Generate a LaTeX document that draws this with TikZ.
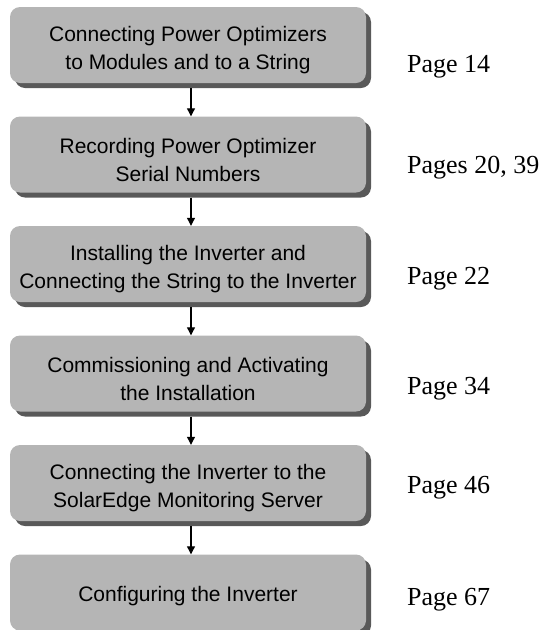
\documentclass[tikz,border=0pt]{standalone}
\usepackage{fontspec}
\setmainfont{Liberation Serif}
\newfontfamily\boxfont{Liberation Sans}
\usetikzlibrary{arrows.meta,shadows}
\definecolor{boxgray}{RGB}{181,181,181}
\definecolor{shadowgray}{RGB}{80,80,80}
\tikzset{
  stepbox/.style={rounded corners=10pt, fill=boxgray, draw=none,
    minimum width=356pt, minimum height=76pt, inner sep=0pt,
    drop shadow={shadow xshift=5pt, shadow yshift=-5pt, fill=shadowgray, opacity=0.95}},
  boxtxt/.style={inner sep=0pt, align=center, font=\boxfont\fontsize{21}{28}\selectfont},
  pagelbl/.style={anchor=base west, inner sep=0pt, font=\fontsize{26}{30}\selectfont},
  arr/.style={draw=black, line width=1.1pt, -{Triangle[length=8pt,width=8pt]}}
}
\begin{document}
\begin{tikzpicture}[x=1pt,y=-1pt]
\useasboundingbox (0,0) rectangle (545,630);
\node[stepbox] (b1) at (188,45) {};
\node[stepbox] (b2) at (188,154.5) {};
\node[stepbox] (b3) at (188,264) {};
\node[stepbox] (b4) at (188,373.5) {};
\node[stepbox] (b5) at (188,483) {};
\node[stepbox] (b6) at (188,592.5) {};
\node[boxtxt] (t1) at ([yshift=-5pt]b1.center) {Connecting Power Optimizers\\to Modules and to a String};
\node[boxtxt] (t2) at ([yshift=-5pt]b2.center) {Recording Power Optimizer\\Serial Numbers};
\node[boxtxt] (t3) at ([yshift=-5pt]b3.center) {Installing the Inverter and\\Connecting the String to the Inverter};
\node[boxtxt] (t4) at ([yshift=-5pt]b4.center) {Commissioning and Activating\\the Installation};
\node[boxtxt] (t5) at ([yshift=-5pt]b5.center) {Connecting the Inverter to the\\SolarEdge Monitoring Server};
\node[boxtxt] (t6) at ([yshift=-4pt]b6.center) {Configuring the Inverter};
\foreach \a/\b in {b1/b2,b2/b3,b3/b4,b4/b5,b5/b6}
  \draw[arr] ([xshift=3pt,yshift=-5pt]\a.south) -- ([xshift=3pt]\b.north);
\node[pagelbl] (p1) at (407,72) {Page 14};
\node[pagelbl] (p2) at (407,173) {Pages 20, 39};
\node[pagelbl] (p3) at (407,284) {Page 22};
\node[pagelbl] (p4) at (407,394) {Page 34};
\node[pagelbl] (p5) at (407,493) {Page 46};
\node[pagelbl] (p6) at (407,605) {Page 67};
\end{tikzpicture}
\end{document}
